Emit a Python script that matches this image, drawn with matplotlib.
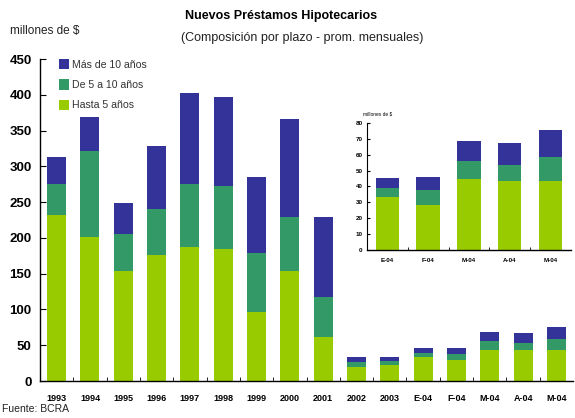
import matplotlib
matplotlib.use("Agg")
import matplotlib.pyplot as plt
import numpy as np

plt.rcParams['font.family'] = ['Liberation Sans', 'DejaVu Sans']

categories = ["1993", "1994", "1995", "1996", "1997", "1998", "1999", "2000", "2001",
              "2002", "2003", "E-04", "F-04", "M-04", "A-04", "M-04"]
hasta5 = [232, 202, 154, 176, 187, 184, 97, 154, 61, 20, 23, 33, 29, 44, 44, 44]
de5a10 = [43, 119, 52, 65, 88, 89, 82, 76, 56, 6, 5, 6, 9, 12, 9, 15]
mas10 = [38, 48, 43, 87, 128, 124, 106, 137, 112, 7, 6, 7, 8, 13, 14, 17]

inset_categories = ["E-04", "F-04", "M-04", "A-04", "M-04"]
inset_hasta5 = [33.5, 28.4, 44.8, 43.6, 43.6]
inset_de5a10 = [5.7, 9.5, 11.4, 10.1, 15.1]
inset_mas10 = [6.3, 8.2, 12.6, 13.9, 17.1]

c_blue = "#333399"
c_green = "#339966"
c_yellow = "#99CC00"

fig = plt.figure(figsize=(5.75, 4.18), dpi=100)
ax = fig.add_axes([0.0696, 0.0885, 0.927, 0.770])

x = np.arange(len(categories))
w = 0.57
h5 = np.array(hasta5); d5 = np.array(de5a10); m10 = np.array(mas10)
ax.bar(x, h5, w, color=c_yellow, label="Hasta 5 años")
ax.bar(x, d5, w, bottom=h5, color=c_green, label="De 5 a 10 años")
ax.bar(x, m10, w, bottom=h5 + d5, color=c_blue, label="Más de 10 años")
ax.set_xlim(-0.5, len(categories) - 0.5)
ax.set_ylim(0, 450)
ax.set_yticks(np.arange(0, 451, 50))
ax.tick_params(axis='y', direction='in', length=4, labelsize=9.5, pad=6)
for lab in ax.get_yticklabels():
    lab.set_fontweight('bold')
ax.set_xticks(x)
ax.set_xticklabels(categories, fontsize=6.5, fontweight='bold')
ax.tick_params(axis='x', length=0, pad=9)
ax.set_xticks(np.arange(0.5, len(categories) - 1, 1), minor=True)
ax.tick_params(axis='x', which='minor', direction='in', length=3)
for s in ['top', 'right']:
    ax.spines[s].set_visible(False)
ax.spines['left'].set_linewidth(1.0)
ax.spines['bottom'].set_linewidth(1.0)

handles, labels = ax.get_legend_handles_labels()
leg = ax.legend(handles[::-1], labels[::-1], loc='upper left', bbox_to_anchor=(0.017, 1.029),
                frameon=False, fontsize=7.6,
                handlelength=0.95, handleheight=1.1,
                handletextpad=0.35, labelspacing=0.9, labelcolor='#333333')

fig.text(0.489, 0.962, "Nuevos Préstamos Hipotecarios", ha='center', va='center',
         fontsize=9, fontweight='bold')
fig.text(0.525, 0.910, "(Composición por plazo - prom. mensuales)", ha='center', va='center',
         fontsize=9, color='#222222')
fig.text(0.017, 0.925, "millones de $", ha='left', va='center', fontsize=8.5, color='#222222')
fig.text(0.003, 0.022, "Fuente: BCRA", ha='left', va='center', fontsize=7.5, color='#222222')

# Inset
axi = fig.add_axes([0.638, 0.402, 0.355, 0.304])
xi = np.arange(len(inset_categories))
ih5 = np.array(inset_hasta5); id5 = np.array(inset_de5a10); im10 = np.array(inset_mas10)
wi = 0.57
axi.bar(xi, ih5, wi, color=c_yellow)
axi.bar(xi, id5, wi, bottom=ih5, color=c_green)
axi.bar(xi, im10, wi, bottom=ih5 + id5, color=c_blue)
axi.set_xlim(-0.5, len(inset_categories) - 0.5)
axi.set_ylim(0, 80)
axi.set_yticks(np.arange(0, 81, 10))
axi.tick_params(axis='y', direction='in', length=2, labelsize=4.5, pad=3)
axi.set_xticks(xi)
axi.set_xticklabels(inset_categories, fontsize=4.5, fontweight='bold')
axi.tick_params(axis='x', length=0, pad=6)
axi.set_xticks(np.arange(0.5, len(inset_categories) - 1, 1), minor=True)
axi.tick_params(axis='x', which='minor', direction='in', length=2)
for lab in axi.get_yticklabels():
    lab.set_fontweight('bold')
for s in ['top', 'right']:
    axi.spines[s].set_visible(False)
axi.spines['left'].set_linewidth(0.8)
axi.spines['bottom'].set_linewidth(1.0)
axi.text(-0.02, 1.05, "millones de $", transform=axi.transAxes, fontsize=3.5,
         ha='left', va='bottom')

fig.savefig("out.png", dpi=100)
